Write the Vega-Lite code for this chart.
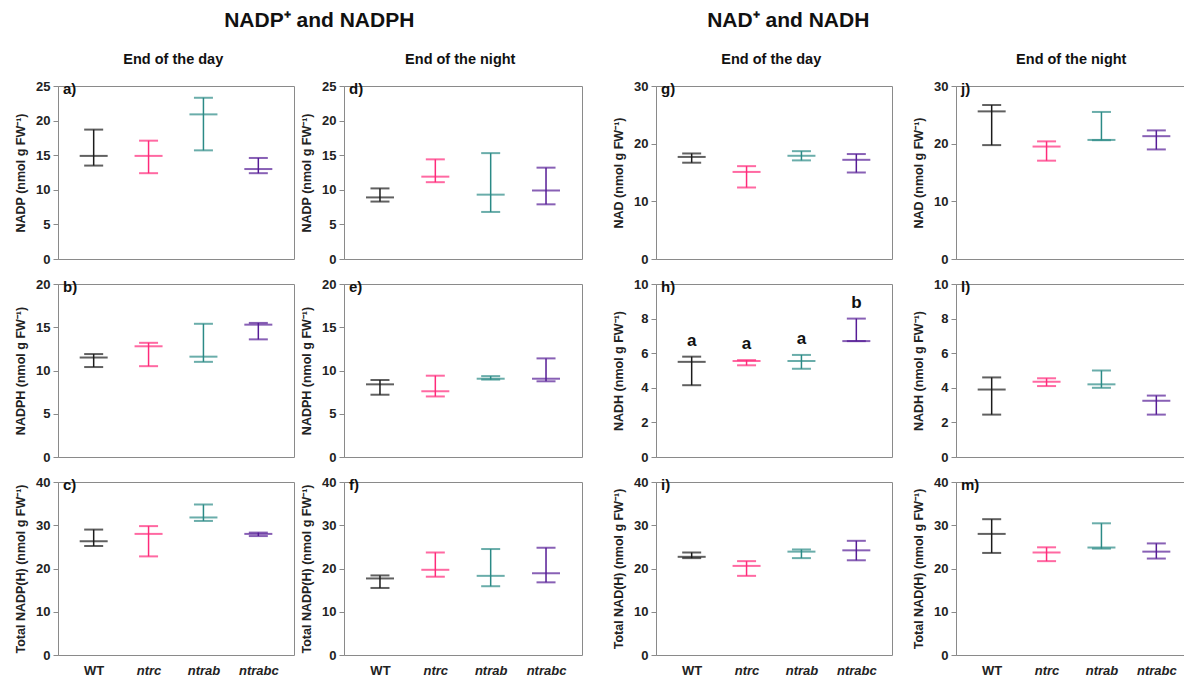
{
  "$schema": "https://vega.github.io/schema/vega-lite/v6.json",
  "padding": {"left": 14, "top": 10, "right": 0, "bottom": 0},
  "data": {"values": [
    {"p":"a","g":"WT","lo":13.5,"med":14.9,"hi":18.7},
    {"p":"a","g":"ntrc","lo":12.4,"med":14.9,"hi":17.1},
    {"p":"a","g":"ntrab","lo":15.7,"med":20.9,"hi":23.3},
    {"p":"a","g":"ntrabc","lo":12.4,"med":13.0,"hi":14.6},
    {"p":"b","g":"WT","lo":10.4,"med":11.5,"hi":11.9},
    {"p":"b","g":"ntrc","lo":10.5,"med":12.8,"hi":13.2},
    {"p":"b","g":"ntrab","lo":11.0,"med":11.6,"hi":15.4},
    {"p":"b","g":"ntrabc","lo":13.6,"med":15.3,"hi":15.5},
    {"p":"c","g":"WT","lo":25.2,"med":26.3,"hi":29.0},
    {"p":"c","g":"ntrc","lo":22.8,"med":28.0,"hi":29.8},
    {"p":"c","g":"ntrab","lo":31.0,"med":31.8,"hi":34.8},
    {"p":"c","g":"ntrabc","lo":27.5,"med":28.0,"hi":28.3},
    {"p":"d","g":"WT","lo":8.3,"med":8.9,"hi":10.2},
    {"p":"d","g":"ntrc","lo":11.1,"med":11.9,"hi":14.4},
    {"p":"d","g":"ntrab","lo":6.8,"med":9.3,"hi":15.3},
    {"p":"d","g":"ntrabc","lo":7.9,"med":9.9,"hi":13.2},
    {"p":"e","g":"WT","lo":7.2,"med":8.4,"hi":8.9},
    {"p":"e","g":"ntrc","lo":7.0,"med":7.6,"hi":9.4},
    {"p":"e","g":"ntrab","lo":8.95,"med":9.05,"hi":9.35},
    {"p":"e","g":"ntrabc","lo":8.75,"med":9.05,"hi":11.4},
    {"p":"f","g":"WT","lo":15.5,"med":17.7,"hi":18.4},
    {"p":"f","g":"ntrc","lo":18.1,"med":19.7,"hi":23.7},
    {"p":"f","g":"ntrab","lo":15.9,"med":18.3,"hi":24.5},
    {"p":"f","g":"ntrabc","lo":16.8,"med":18.9,"hi":24.8},
    {"p":"g","g":"WT","lo":16.7,"med":17.7,"hi":18.3},
    {"p":"g","g":"ntrc","lo":12.4,"med":15.1,"hi":16.1},
    {"p":"g","g":"ntrab","lo":17.1,"med":17.9,"hi":18.7},
    {"p":"g","g":"ntrabc","lo":15.0,"med":17.2,"hi":18.2},
    {"p":"h","g":"WT","lo":4.15,"med":5.5,"hi":5.8,"letter":"a"},
    {"p":"h","g":"ntrc","lo":5.3,"med":5.55,"hi":5.6,"letter":"a"},
    {"p":"h","g":"ntrab","lo":5.1,"med":5.55,"hi":5.9,"letter":"a"},
    {"p":"h","g":"ntrabc","lo":6.7,"med":6.7,"hi":8.0,"letter":"b"},
    {"p":"i","g":"WT","lo":22.4,"med":22.7,"hi":23.7},
    {"p":"i","g":"ntrc","lo":18.3,"med":20.6,"hi":21.7},
    {"p":"i","g":"ntrab","lo":22.4,"med":23.9,"hi":24.4},
    {"p":"i","g":"ntrabc","lo":21.9,"med":24.2,"hi":26.4},
    {"p":"j","g":"WT","lo":19.75,"med":25.6,"hi":26.7},
    {"p":"j","g":"ntrc","lo":17.05,"med":19.5,"hi":20.4},
    {"p":"j","g":"ntrab","lo":20.6,"med":20.65,"hi":25.5},
    {"p":"j","g":"ntrabc","lo":19.0,"med":21.3,"hi":22.3},
    {"p":"l","g":"WT","lo":2.45,"med":3.9,"hi":4.6},
    {"p":"l","g":"ntrc","lo":4.1,"med":4.35,"hi":4.55},
    {"p":"l","g":"ntrab","lo":4.0,"med":4.2,"hi":5.0},
    {"p":"l","g":"ntrabc","lo":2.45,"med":3.25,"hi":3.55},
    {"p":"m","g":"WT","lo":23.6,"med":28.0,"hi":31.4},
    {"p":"m","g":"ntrc","lo":21.7,"med":23.7,"hi":24.9},
    {"p":"m","g":"ntrab","lo":24.6,"med":24.85,"hi":30.45},
    {"p":"m","g":"ntrabc","lo":22.3,"med":23.9,"hi":25.8}
  ]},
  "spacing": 29,
  "hconcat": [
    {
      "title": {"text": "NADP⁺ and NADPH", "fontSize": 21, "offset": 21, "anchor": "middle", "frame": "bounds", "dx": 21},
      "spacing": 5,
      "hconcat": [
        {
          "title": {"text": "End of the day", "fontSize": 14.5, "offset": 12, "anchor": "middle", "frame": "bounds", "dx": 19},
          "spacing": 10,
          "vconcat": [
            {"width":236,"height":173,"title":{"text":"a)","anchor":"start","frame":"group","offset":-17,"dx":5,"fontSize":15},
             "transform":[{"filter":"datum.p==='a'"}],
             "encoding":{"x":{"field":"g","type":"nominal","sort":["WT","ntrc","ntrab","ntrabc"],"scale":{"type":"point","padding":0.65},"axis":null},
                         "color":{"field":"g","type":"nominal","scale":{"domain":["WT","ntrc","ntrab","ntrabc"],"range":["#1c1c1c","#ff2a7a","#2b8a86","#561c96"]},"legend":null}},
             "layer":[
               {"mark":"rule","encoding":{"y":{"field":"lo","type":"quantitative","scale":{"domain":[0,25],"nice":false},"axis":{"values":[0,5,10,15,20,25],"title":"NADP (nmol g FW⁻¹)"}},"y2":{"field":"hi"}}},
               {"mark":{"type":"tick","size":19},"encoding":{"y":{"field":"lo","type":"quantitative"}}},
               {"mark":{"type":"tick","size":19},"encoding":{"y":{"field":"hi","type":"quantitative"}}},
               {"mark":{"type":"tick","size":28},"encoding":{"y":{"field":"med","type":"quantitative"}}}
             ]},
            {"width":236,"height":173,"title":{"text":"b)","anchor":"start","frame":"group","offset":-17,"dx":5,"fontSize":15},
             "transform":[{"filter":"datum.p==='b'"}],
             "encoding":{"x":{"field":"g","type":"nominal","sort":["WT","ntrc","ntrab","ntrabc"],"scale":{"type":"point","padding":0.65},"axis":null},
                         "color":{"field":"g","type":"nominal","scale":{"domain":["WT","ntrc","ntrab","ntrabc"],"range":["#1c1c1c","#ff2a7a","#2b8a86","#561c96"]},"legend":null}},
             "layer":[
               {"mark":"rule","encoding":{"y":{"field":"lo","type":"quantitative","scale":{"domain":[0,20],"nice":false},"axis":{"values":[0,5,10,15,20],"title":"NADPH (nmol g FW⁻¹)"}},"y2":{"field":"hi"}}},
               {"mark":{"type":"tick","size":19},"encoding":{"y":{"field":"lo","type":"quantitative"}}},
               {"mark":{"type":"tick","size":19},"encoding":{"y":{"field":"hi","type":"quantitative"}}},
               {"mark":{"type":"tick","size":28},"encoding":{"y":{"field":"med","type":"quantitative"}}}
             ]},
            {"width":236,"height":173,"title":{"text":"c)","anchor":"start","frame":"group","offset":-17,"dx":5,"fontSize":15},
             "transform":[{"filter":"datum.p==='c'"}],
             "encoding":{"x":{"field":"g","type":"nominal","sort":["WT","ntrc","ntrab","ntrabc"],"scale":{"type":"point","padding":0.65},
                              "axis":{"title":null,"ticks":false,"domain":false,"labelAngle":0,"labelPadding":9,"labelFontSize":13,"labelFontStyle":{"condition":{"test":"datum.value==='WT'","value":"normal"},"value":"italic"}}},
                         "color":{"field":"g","type":"nominal","scale":{"domain":["WT","ntrc","ntrab","ntrabc"],"range":["#1c1c1c","#ff2a7a","#2b8a86","#561c96"]},"legend":null}},
             "layer":[
               {"mark":"rule","encoding":{"y":{"field":"lo","type":"quantitative","scale":{"domain":[0,40],"nice":false},"axis":{"values":[0,10,20,30,40],"title":"Total NADP(H) (nmol g FW⁻¹)"}},"y2":{"field":"hi"}}},
               {"mark":{"type":"tick","size":19},"encoding":{"y":{"field":"lo","type":"quantitative"}}},
               {"mark":{"type":"tick","size":19},"encoding":{"y":{"field":"hi","type":"quantitative"}}},
               {"mark":{"type":"tick","size":28},"encoding":{"y":{"field":"med","type":"quantitative"}}}
             ]}
          ]
        },
        {
          "title": {"text": "End of the night", "fontSize": 14.5, "offset": 12, "anchor": "middle", "frame": "bounds", "dx": 19},
          "spacing": 10,
          "vconcat": [
            {"width":238,"height":173,"title":{"text":"d)","anchor":"start","frame":"group","offset":-17,"dx":5,"fontSize":15},
             "transform":[{"filter":"datum.p==='d'"}],
             "encoding":{"x":{"field":"g","type":"nominal","sort":["WT","ntrc","ntrab","ntrabc"],"scale":{"type":"point","padding":0.65},"axis":null},
                         "color":{"field":"g","type":"nominal","scale":{"domain":["WT","ntrc","ntrab","ntrabc"],"range":["#1c1c1c","#ff2a7a","#2b8a86","#561c96"]},"legend":null}},
             "layer":[
               {"mark":"rule","encoding":{"y":{"field":"lo","type":"quantitative","scale":{"domain":[0,25],"nice":false},"axis":{"values":[0,5,10,15,20,25],"title":"NADP (nmol g FW⁻¹)"}},"y2":{"field":"hi"}}},
               {"mark":{"type":"tick","size":19},"encoding":{"y":{"field":"lo","type":"quantitative"}}},
               {"mark":{"type":"tick","size":19},"encoding":{"y":{"field":"hi","type":"quantitative"}}},
               {"mark":{"type":"tick","size":28},"encoding":{"y":{"field":"med","type":"quantitative"}}}
             ]},
            {"width":238,"height":173,"title":{"text":"e)","anchor":"start","frame":"group","offset":-17,"dx":5,"fontSize":15},
             "transform":[{"filter":"datum.p==='e'"}],
             "encoding":{"x":{"field":"g","type":"nominal","sort":["WT","ntrc","ntrab","ntrabc"],"scale":{"type":"point","padding":0.65},"axis":null},
                         "color":{"field":"g","type":"nominal","scale":{"domain":["WT","ntrc","ntrab","ntrabc"],"range":["#1c1c1c","#ff2a7a","#2b8a86","#561c96"]},"legend":null}},
             "layer":[
               {"mark":"rule","encoding":{"y":{"field":"lo","type":"quantitative","scale":{"domain":[0,20],"nice":false},"axis":{"values":[0,5,10,15,20],"title":"NADPH (nmol g FW⁻¹)"}},"y2":{"field":"hi"}}},
               {"mark":{"type":"tick","size":19},"encoding":{"y":{"field":"lo","type":"quantitative"}}},
               {"mark":{"type":"tick","size":19},"encoding":{"y":{"field":"hi","type":"quantitative"}}},
               {"mark":{"type":"tick","size":28},"encoding":{"y":{"field":"med","type":"quantitative"}}}
             ]},
            {"width":238,"height":173,"title":{"text":"f)","anchor":"start","frame":"group","offset":-17,"dx":5,"fontSize":15},
             "transform":[{"filter":"datum.p==='f'"}],
             "encoding":{"x":{"field":"g","type":"nominal","sort":["WT","ntrc","ntrab","ntrabc"],"scale":{"type":"point","padding":0.65},
                              "axis":{"title":null,"ticks":false,"domain":false,"labelAngle":0,"labelPadding":9,"labelFontSize":13,"labelFontStyle":{"condition":{"test":"datum.value==='WT'","value":"normal"},"value":"italic"}}},
                         "color":{"field":"g","type":"nominal","scale":{"domain":["WT","ntrc","ntrab","ntrabc"],"range":["#1c1c1c","#ff2a7a","#2b8a86","#561c96"]},"legend":null}},
             "layer":[
               {"mark":"rule","encoding":{"y":{"field":"lo","type":"quantitative","scale":{"domain":[0,40],"nice":false},"axis":{"values":[0,10,20,30,40],"title":"Total NADP(H) (nmol g FW⁻¹)"}},"y2":{"field":"hi"}}},
               {"mark":{"type":"tick","size":19},"encoding":{"y":{"field":"lo","type":"quantitative"}}},
               {"mark":{"type":"tick","size":19},"encoding":{"y":{"field":"hi","type":"quantitative"}}},
               {"mark":{"type":"tick","size":28},"encoding":{"y":{"field":"med","type":"quantitative"}}}
             ]}
          ]
        }
      ]
    },
    {
      "title": {"text": "NAD⁺ and NADH", "fontSize": 21, "offset": 21, "anchor": "middle", "frame": "bounds", "dx": -114},
      "spacing": 19,
      "hconcat": [
        {
          "title": {"text": "End of the day", "fontSize": 14.5, "offset": 12, "anchor": "middle", "frame": "bounds", "dx": 19},
          "spacing": 10,
          "vconcat": [
            {"width":236,"height":173,"title":{"text":"g)","anchor":"start","frame":"group","offset":-17,"dx":5,"fontSize":15},
             "transform":[{"filter":"datum.p==='g'"}],
             "encoding":{"x":{"field":"g","type":"nominal","sort":["WT","ntrc","ntrab","ntrabc"],"scale":{"type":"point","padding":0.65},"axis":null},
                         "color":{"field":"g","type":"nominal","scale":{"domain":["WT","ntrc","ntrab","ntrabc"],"range":["#1c1c1c","#ff2a7a","#2b8a86","#561c96"]},"legend":null}},
             "layer":[
               {"mark":"rule","encoding":{"y":{"field":"lo","type":"quantitative","scale":{"domain":[0,30],"nice":false},"axis":{"values":[0,10,20,30],"title":"NAD (nmol g FW⁻¹)"}},"y2":{"field":"hi"}}},
               {"mark":{"type":"tick","size":19},"encoding":{"y":{"field":"lo","type":"quantitative"}}},
               {"mark":{"type":"tick","size":19},"encoding":{"y":{"field":"hi","type":"quantitative"}}},
               {"mark":{"type":"tick","size":28},"encoding":{"y":{"field":"med","type":"quantitative"}}}
             ]},
            {"width":236,"height":173,"title":{"text":"h)","anchor":"start","frame":"group","offset":-17,"dx":5,"fontSize":15},
             "transform":[{"filter":"datum.p==='h'"}],
             "encoding":{"x":{"field":"g","type":"nominal","sort":["WT","ntrc","ntrab","ntrabc"],"scale":{"type":"point","padding":0.65},"axis":null},
                         "color":{"field":"g","type":"nominal","scale":{"domain":["WT","ntrc","ntrab","ntrabc"],"range":["#1c1c1c","#ff2a7a","#2b8a86","#561c96"]},"legend":null}},
             "layer":[
               {"mark":"rule","encoding":{"y":{"field":"lo","type":"quantitative","scale":{"domain":[0,10],"nice":false},"axis":{"values":[0,2,4,6,8,10],"title":"NADH (nmol g FW⁻¹)"}},"y2":{"field":"hi"}}},
               {"mark":{"type":"tick","size":19},"encoding":{"y":{"field":"lo","type":"quantitative"}}},
               {"mark":{"type":"tick","size":19},"encoding":{"y":{"field":"hi","type":"quantitative"}}},
               {"mark":{"type":"tick","size":28},"encoding":{"y":{"field":"med","type":"quantitative"}}},
               {"mark":{"type":"text","baseline":"bottom","dy":-7,"fontSize":17,"fontWeight":"bold"},"encoding":{"y":{"field":"hi","type":"quantitative"},"text":{"field":"letter"},"color":{"value":"#111111"}}}
             ]},
            {"width":236,"height":173,"title":{"text":"i)","anchor":"start","frame":"group","offset":-17,"dx":5,"fontSize":15},
             "transform":[{"filter":"datum.p==='i'"}],
             "encoding":{"x":{"field":"g","type":"nominal","sort":["WT","ntrc","ntrab","ntrabc"],"scale":{"type":"point","padding":0.65},
                              "axis":{"title":null,"ticks":false,"domain":false,"labelAngle":0,"labelPadding":9,"labelFontSize":13,"labelFontStyle":{"condition":{"test":"datum.value==='WT'","value":"normal"},"value":"italic"}}},
                         "color":{"field":"g","type":"nominal","scale":{"domain":["WT","ntrc","ntrab","ntrabc"],"range":["#1c1c1c","#ff2a7a","#2b8a86","#561c96"]},"legend":null}},
             "layer":[
               {"mark":"rule","encoding":{"y":{"field":"lo","type":"quantitative","scale":{"domain":[0,40],"nice":false},"axis":{"values":[0,10,20,30,40],"title":"Total NAD(H) (nmol g FW⁻¹)"}},"y2":{"field":"hi"}}},
               {"mark":{"type":"tick","size":19},"encoding":{"y":{"field":"lo","type":"quantitative"}}},
               {"mark":{"type":"tick","size":19},"encoding":{"y":{"field":"hi","type":"quantitative"}}},
               {"mark":{"type":"tick","size":28},"encoding":{"y":{"field":"med","type":"quantitative"}}}
             ]}
          ]
        },
        {
          "title": {"text": "End of the night", "fontSize": 14.5, "offset": 12, "anchor": "middle", "frame": "bounds", "dx": 19},
          "spacing": 10,
          "vconcat": [
            {"width":236,"height":173,"title":{"text":"j)","anchor":"start","frame":"group","offset":-17,"dx":5,"fontSize":15},
             "transform":[{"filter":"datum.p==='j'"}],
             "encoding":{"x":{"field":"g","type":"nominal","sort":["WT","ntrc","ntrab","ntrabc"],"scale":{"type":"point","padding":0.65},"axis":null},
                         "color":{"field":"g","type":"nominal","scale":{"domain":["WT","ntrc","ntrab","ntrabc"],"range":["#1c1c1c","#ff2a7a","#2b8a86","#561c96"]},"legend":null}},
             "layer":[
               {"mark":"rule","encoding":{"y":{"field":"lo","type":"quantitative","scale":{"domain":[0,30],"nice":false},"axis":{"values":[0,10,20,30],"title":"NAD (nmol g FW⁻¹)"}},"y2":{"field":"hi"}}},
               {"mark":{"type":"tick","size":19},"encoding":{"y":{"field":"lo","type":"quantitative"}}},
               {"mark":{"type":"tick","size":19},"encoding":{"y":{"field":"hi","type":"quantitative"}}},
               {"mark":{"type":"tick","size":28},"encoding":{"y":{"field":"med","type":"quantitative"}}}
             ]},
            {"width":236,"height":173,"title":{"text":"l)","anchor":"start","frame":"group","offset":-17,"dx":5,"fontSize":15},
             "transform":[{"filter":"datum.p==='l'"}],
             "encoding":{"x":{"field":"g","type":"nominal","sort":["WT","ntrc","ntrab","ntrabc"],"scale":{"type":"point","padding":0.65},"axis":null},
                         "color":{"field":"g","type":"nominal","scale":{"domain":["WT","ntrc","ntrab","ntrabc"],"range":["#1c1c1c","#ff2a7a","#2b8a86","#561c96"]},"legend":null}},
             "layer":[
               {"mark":"rule","encoding":{"y":{"field":"lo","type":"quantitative","scale":{"domain":[0,10],"nice":false},"axis":{"values":[0,2,4,6,8,10],"title":"NADH (nmol g FW⁻¹)"}},"y2":{"field":"hi"}}},
               {"mark":{"type":"tick","size":19},"encoding":{"y":{"field":"lo","type":"quantitative"}}},
               {"mark":{"type":"tick","size":19},"encoding":{"y":{"field":"hi","type":"quantitative"}}},
               {"mark":{"type":"tick","size":28},"encoding":{"y":{"field":"med","type":"quantitative"}}}
             ]},
            {"width":236,"height":173,"title":{"text":"m)","anchor":"start","frame":"group","offset":-17,"dx":5,"fontSize":15},
             "transform":[{"filter":"datum.p==='m'"}],
             "encoding":{"x":{"field":"g","type":"nominal","sort":["WT","ntrc","ntrab","ntrabc"],"scale":{"type":"point","padding":0.65},
                              "axis":{"title":null,"ticks":false,"domain":false,"labelAngle":0,"labelPadding":9,"labelFontSize":13,"labelFontStyle":{"condition":{"test":"datum.value==='WT'","value":"normal"},"value":"italic"}}},
                         "color":{"field":"g","type":"nominal","scale":{"domain":["WT","ntrc","ntrab","ntrabc"],"range":["#1c1c1c","#ff2a7a","#2b8a86","#561c96"]},"legend":null}},
             "layer":[
               {"mark":"rule","encoding":{"y":{"field":"lo","type":"quantitative","scale":{"domain":[0,40],"nice":false},"axis":{"values":[0,10,20,30,40],"title":"Total NAD(H) (nmol g FW⁻¹)"}},"y2":{"field":"hi"}}},
               {"mark":{"type":"tick","size":19},"encoding":{"y":{"field":"lo","type":"quantitative"}}},
               {"mark":{"type":"tick","size":19},"encoding":{"y":{"field":"hi","type":"quantitative"}}},
               {"mark":{"type":"tick","size":28},"encoding":{"y":{"field":"med","type":"quantitative"}}}
             ]}
          ]
        }
      ]
    }
  ],
  "config": {
    "font": "Liberation Sans Narrow, Liberation Sans, Arial",
    "view": {"stroke": "#8a8a8a", "strokeWidth": 1},
    "axis": {"grid": false, "domainColor": "#8a8a8a", "tickColor": "#8a8a8a", "labelColor": "#222222", "titleColor": "#222222", "labelFontWeight": "bold", "titleFontWeight": "bold"},
    "axisY": {"labelFontSize": 13, "titleFontSize": 12.5, "titleFont": "Liberation Sans", "tickSize": 5, "labelPadding": 3, "titlePadding": 8, "tickCount": 12},
    "tick": {"thickness": 2},
    "rule": {"strokeWidth": 1.5},
    "title": {"fontWeight": "bold", "color": "#111111"}
  }
}
